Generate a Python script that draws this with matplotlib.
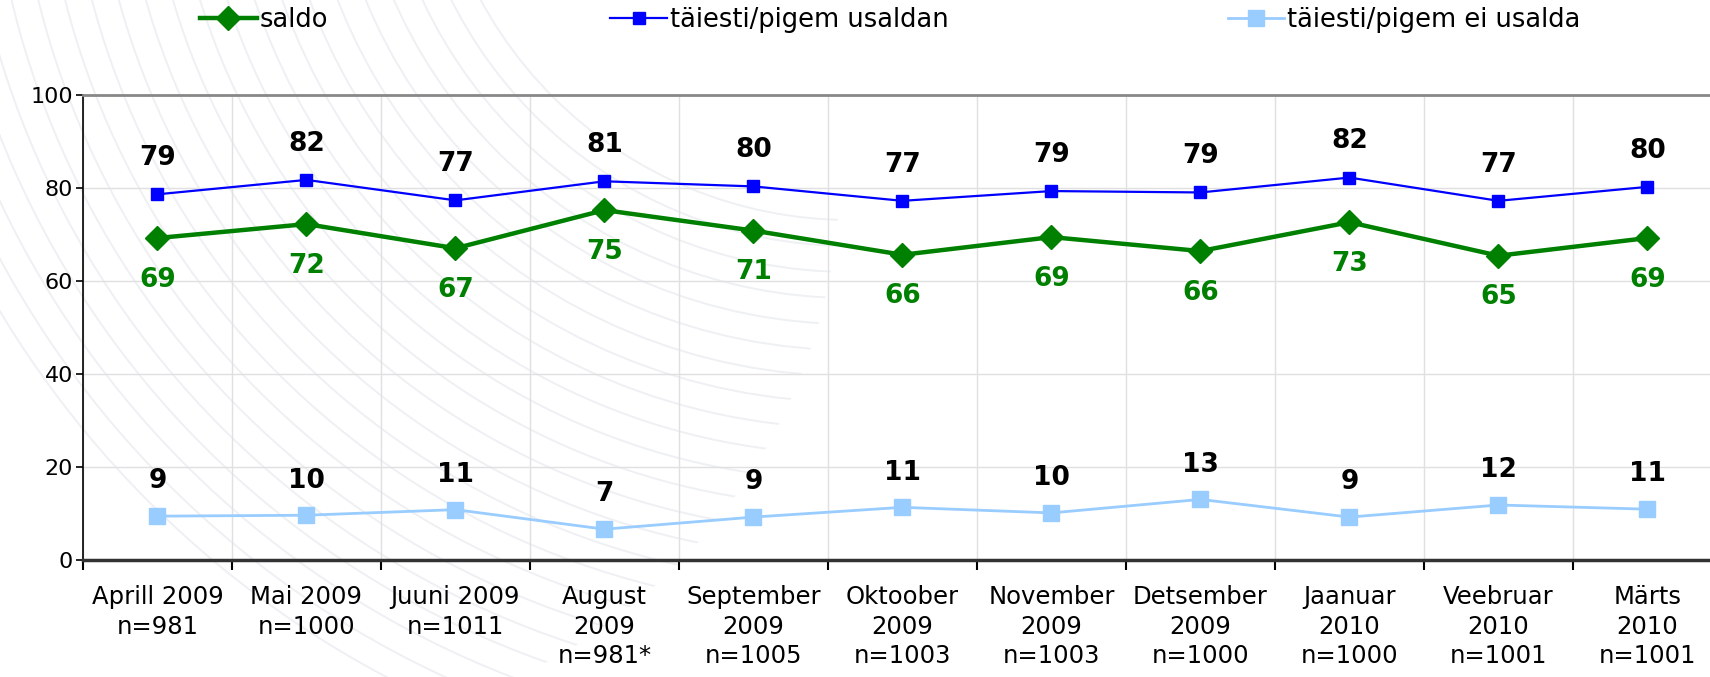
import matplotlib
matplotlib.use("Agg")
import matplotlib.pyplot as plt
from matplotlib.patches import Circle
import numpy as np

# data
months = ["Aprill 2009\nn=981", "Mai 2009\nn=1000", "Juuni 2009\nn=1011",
          "August\n2009\nn=981*", "September\n2009\nn=1005", "Oktoober\n2009\nn=1003",
          "November\n2009\nn=1003", "Detsember\n2009\nn=1000", "Jaanuar\n2010\nn=1000",
          "Veebruar\n2010\nn=1001", "Märts\n2010\nn=1001"]
usaldan = [78.6, 81.7, 77.3, 81.4, 80.3, 77.2, 79.3, 79.0, 82.2, 77.2, 80.2]
saldo = [69.2, 72.2, 67.0, 75.2, 70.8, 65.6, 69.4, 66.4, 72.6, 65.4, 69.2]
ei_usalda = [9.4, 9.6, 10.8, 6.6, 9.2, 11.3, 10.1, 13.0, 9.2, 11.8, 10.9]
yticks = [0, 20, 40, 60, 80, 100]

plt.rcParams['font.family'] = ['DejaVu Sans']

fig = plt.figure(figsize=(17.1, 6.77), dpi=100)

# faint watermark arcs behind the chart (left part only)
bg = fig.add_axes([0, 0, 1, 1], zorder=-5)
bg.set_xlim(0, 1710)
bg.set_ylim(677, 0)
bg.axis("off")
clip = Circle((280, 170), 560, transform=bg.transData)
for r in np.arange(420, 1000, 26):
    c = Circle((850, -200), r, fill=False, ec="#eef0f3", lw=1.4)
    bg.add_patch(c)
    c.set_clip_path(clip)

ax = fig.add_axes([0.0485, 0.173, 0.9585, 0.687])
ax.patch.set_alpha(0)
x = np.arange(len(months))

l_sal, = ax.plot(x, saldo, color="#008000", lw=3.2, marker="D", ms=12.5, zorder=4)
l_us, = ax.plot(x, usaldan, color="#0000ff", lw=1.6, marker="s", ms=8.5, zorder=4)
l_ei, = ax.plot(x, ei_usalda, color="#99ccff", lw=2, marker="s", ms=11, zorder=4)

for xi, v in zip(x, usaldan):
    ax.annotate(f"{v:.0f}", (xi, v), xytext=(0, 26), textcoords="offset points",
                ha="center", va="center", fontsize=19, fontweight="bold", color="black")
for xi, v in zip(x, saldo):
    ax.annotate(f"{v:.0f}", (xi, v), xytext=(0, -30), textcoords="offset points",
                ha="center", va="center", fontsize=19, fontweight="bold", color="#008000")
for xi, v in zip(x, ei_usalda):
    ax.annotate(f"{v:.0f}", (xi, v), xytext=(0, 25), textcoords="offset points",
                ha="center", va="center", fontsize=19, fontweight="bold", color="black")

ax.set_ylim(0, 100)
ax.set_xlim(-0.5, len(months) - 0.5)
ax.set_yticks(yticks)
ax.tick_params(axis="y", labelsize=16, length=5, width=1.2, direction="out", pad=2)
ax.set_xticks(x)
ax.set_xticklabels(months, fontsize=17.5, linespacing=1.3)
ax.tick_params(axis="x", which="major", length=0, pad=18)
ax.set_xticks(np.arange(-0.5, len(months)), minor=True)
ax.tick_params(axis="x", which="minor", length=7, width=1.5, direction="out")
ax.grid(axis="y", color="#e0e0e0", lw=1)
ax.grid(axis="x", which="minor", color="#e0e0e0", lw=1)
ax.set_axisbelow(True)

ax.spines["right"].set_visible(False)
ax.spines["top"].set_color("#888888")
ax.spines["top"].set_linewidth(2)
ax.spines["left"].set_linewidth(1.2)
ax.spines["bottom"].set_color("#333333")
ax.spines["bottom"].set_linewidth(2.5)

# legend entries are spread unevenly across the top
for handle, label, xpos in [(l_sal, "saldo", 0.117), (l_us, "täiesti/pigem usaldan", 0.357),
                            (l_ei, "täiesti/pigem ei usalda", 0.718)]:
    lg = fig.legend([handle], [label], loc="center left", bbox_to_anchor=(xpos, 0.97),
                    frameon=False, fontsize=18.5, handlelength=2.2, handletextpad=0.1,
                    borderaxespad=0, borderpad=0)

fig.savefig("out.png", dpi=100)
